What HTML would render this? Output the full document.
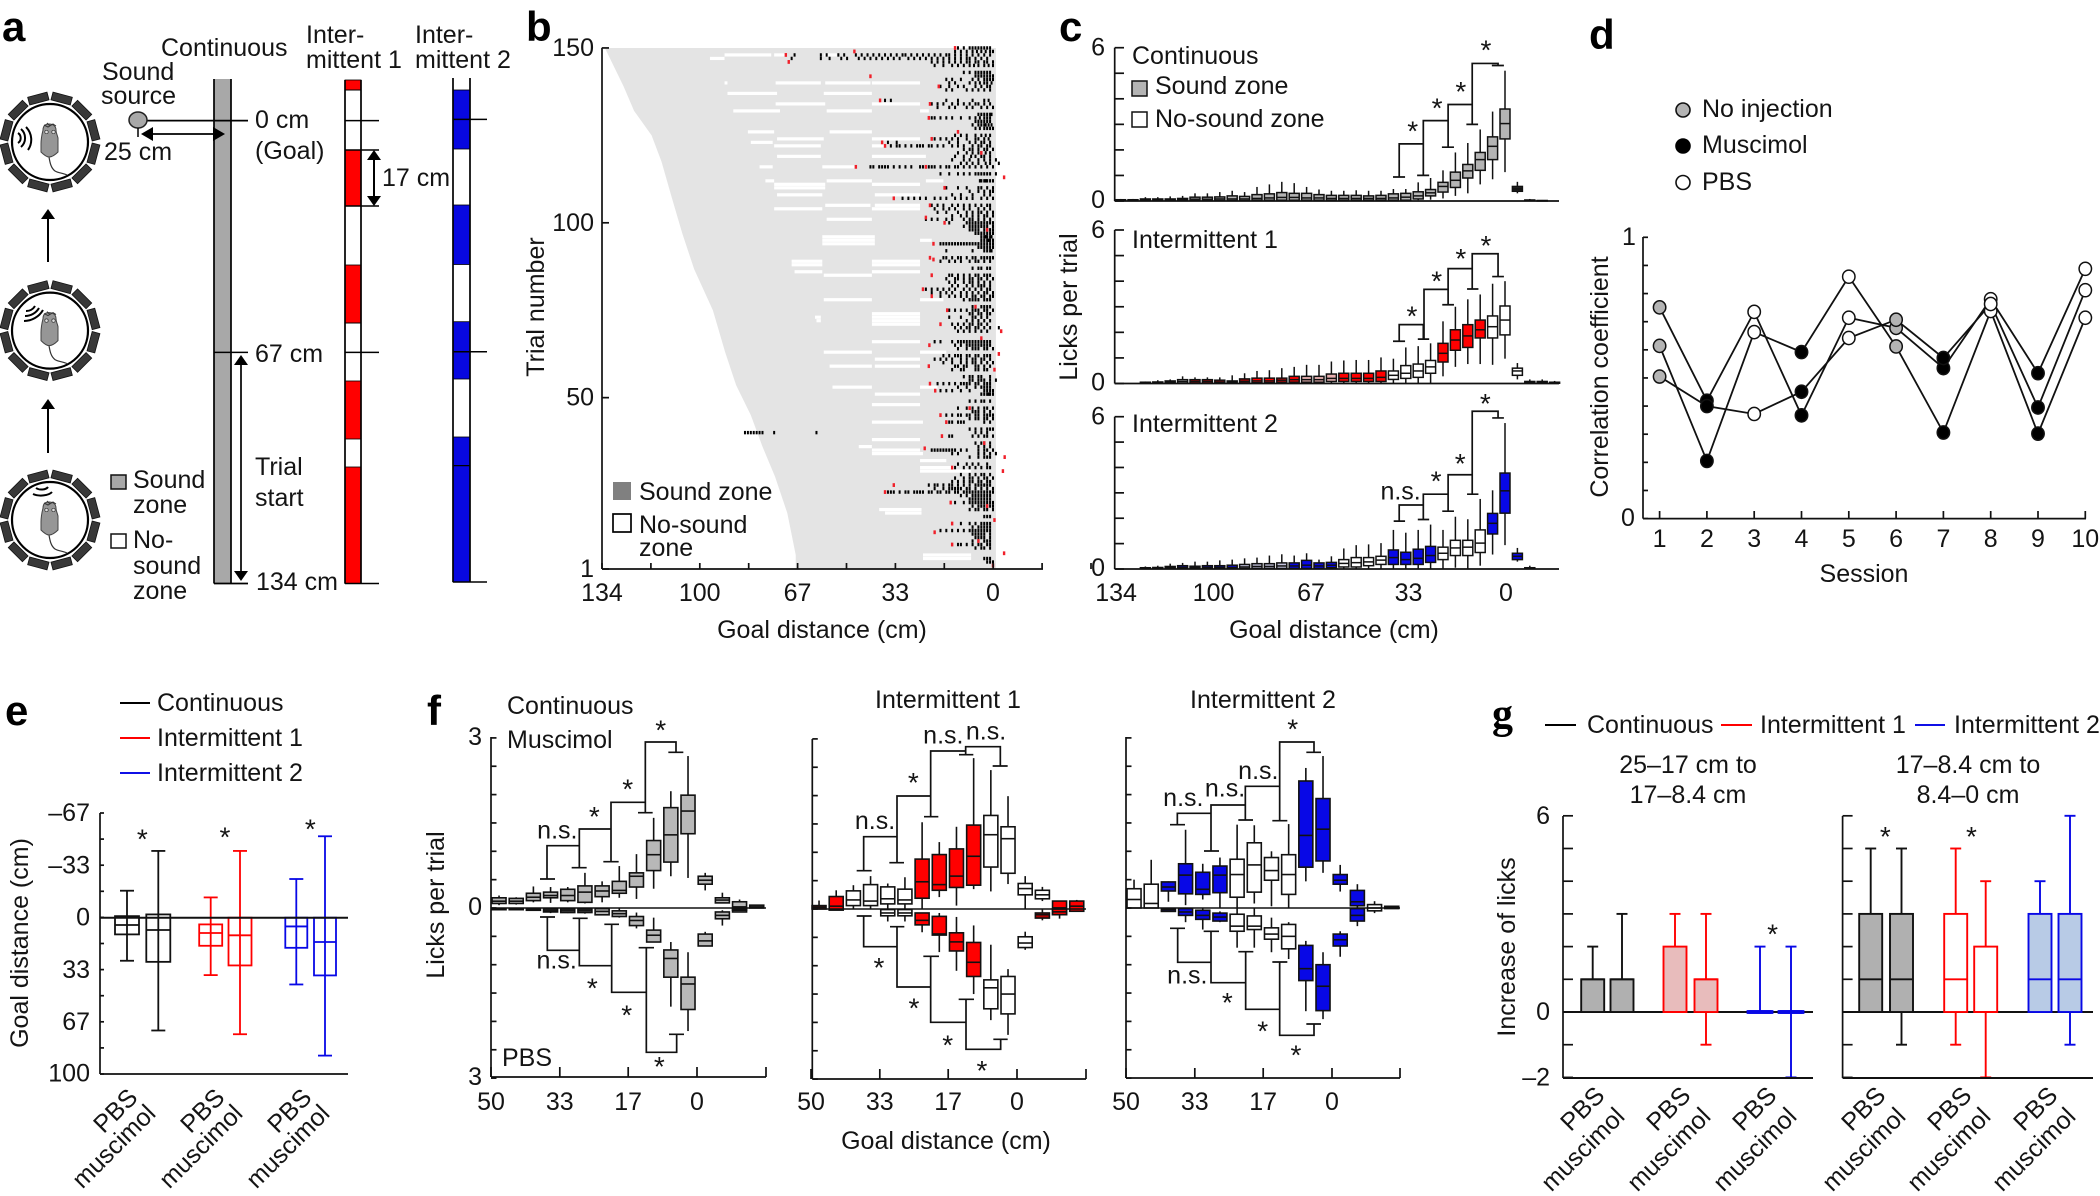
<!DOCTYPE html>
<html lang="en">
<head>
<meta charset="utf-8">
<title>Sound-guided licking behaviour figure</title>
<style>
html,body{margin:0;padding:0;background:#fff}
svg{display:block}
text{font-family:"Liberation Sans",sans-serif;font-size:25px;fill:#141414}
.letter{font-weight:bold;font-size:42px;fill:#000}
.serif{font-family:"Liberation Serif",serif}
.bracket{fill:none;stroke:#111;stroke-width:1.7;vector-effect:non-scaling-stroke}
</style>
</head>
<body>
<svg id="figure" xmlns="http://www.w3.org/2000/svg" width="2100" height="1196" viewBox="0 0 2100 1196">
<rect x="0" y="0" width="2100" height="1196" fill="#fff"/>
<g id="marks"></g>

<!-- bracket annotations, drawn in crop coordinates -->
<g transform="translate(1040,0) scale(0.3444,0.4146)">
<path class="bracket" d="M1025 427H1060M1043 427V347H1113M1095 423H1130M1113 423V291H1185M1167 355H1202M1185 355V252H1255M1238 300H1272M1255 300V153H1330V158M1312 158H1347"/>
<path class="bracket" d="M1025 823H1060M1043 823V783H1113V818M1097 818H1130M1115 818V698H1185M1168 735H1202M1185 735V648H1255M1240 697H1273M1255 697V612H1330V667M1313 667H1347"/>
<path class="bracket" d="M1027 1257H1060M1043 1257V1218H1113M1097 1253H1130M1113 1253V1192H1185M1168 1233H1202M1185 1233V1145H1255M1240 1192H1273M1255 1192V992H1330V1008M1313 1008H1347"/>
</g>
<g transform="translate(420,680) scale(0.33333)">
<path class="bracket" d="M360 597H405M381 597V497H478M455 563H500M478 563V447H573M550 545H596M573 545V367H676M654 398H698M676 398V186H768V217M745 217H790"/>
<path class="bracket" d="M360 711H405M382 711V811H478M458 715H503M478 715V857H575M553 733H597M575 733V937H679M656 803H702M679 803V1117H770V1063M747 1063H792"/>
</g>
<g transform="translate(800,680) scale(0.33333)">
<path class="bracket" d="M170 572H215M191 572V470H291M268 548H312M291 548V348H392M372 410H415M392 410V213H497M477 224H520M497 224V200H601V258M578 258H623"/>
<path class="bracket" d="M170 708H215M191 708V800H291M270 740H313M291 740V921H392M370 829H417M392 829V1027H498M476 958H522M498 958V1108H602V1078M580 1078H623"/>
</g>
<g transform="translate(1110,680) scale(0.33333)">
<path class="bracket" d="M180 434H225M202 434V400H303M282 513H327M303 513V375H406M385 420H429M406 420V319H509M487 422H532M509 422V186H612V217M589 217H633"/>
<path class="bracket" d="M180 745H225M203 745V847H303M281 754H327M303 754V908H407M385 815H430M407 815V988H509M487 846H532M509 846V1066H612V1032M589 1032H633"/>
</g>

<!-- panel letters -->
<text class="letter" x="2" y="41">a</text>
<text class="letter" x="526" y="41">b</text>
<text class="letter" x="1059" y="41">c</text>
<text class="letter" x="1589" y="49">d</text>
<text class="letter" x="5" y="725">e</text>
<text class="letter" x="427" y="725">f</text>
<text class="letter serif" x="1492" y="728">g</text>

<!-- panel a text -->
<text x="161" y="56">Continuous</text>
<text x="306" y="43">Inter-</text>
<text x="306" y="68">mittent 1</text>
<text x="415" y="43">Inter-</text>
<text x="415" y="68">mittent 2</text>
<text x="102" y="80">Sound</text>
<text x="101" y="104">source</text>
<text x="104" y="160">25 cm</text>
<text x="255" y="128">0 cm</text>
<text x="255" y="159">(Goal)</text>
<text x="382" y="186">17 cm</text>
<text x="255" y="362">67 cm</text>
<text x="255" y="475">Trial</text>
<text x="255" y="506">start</text>
<text x="256" y="590">134 cm</text>
<text x="133" y="488">Sound</text>
<text x="133" y="513">zone</text>
<text x="133" y="548">No-</text>
<text x="133" y="574">sound</text>
<text x="133" y="599">zone</text>

<!-- panel b text -->
<text transform="translate(544,307) rotate(-90)" text-anchor="middle">Trial number</text>
<text x="822" y="638" text-anchor="middle">Goal distance (cm)</text>
<rect x="613" y="482" width="18" height="18" fill="#808080"/>
<text x="639" y="500">Sound zone</text>
<rect x="613" y="514" width="18" height="18" fill="#fff" stroke="#000" stroke-width="1.7"/>
<text x="639" y="533">No-sound</text>
<text x="639" y="556">zone</text>

<!-- panel c text -->
<text transform="translate(1077,307) rotate(-90)" text-anchor="middle">Licks per trial</text>
<text x="1334" y="638" text-anchor="middle">Goal distance (cm)</text>
<text x="1132" y="64">Continuous</text>
<rect x="1132" y="81" width="15" height="15" fill="#b4b4b4" stroke="#111" stroke-width="1.5"/>
<text x="1155" y="94">Sound zone</text>
<rect x="1132" y="112" width="15" height="15" fill="#fff" stroke="#111" stroke-width="1.5"/>
<text x="1155" y="127">No-sound zone</text>
<text x="1132" y="248">Intermittent 1</text>
<text x="1132" y="432">Intermittent 2</text>

<!-- panel d text -->
<text transform="translate(1608,377) rotate(-90)" text-anchor="middle">Correlation coefficient</text>
<text x="1864" y="582" text-anchor="middle">Session</text>
<ellipse cx="1683" cy="110" rx="7" ry="7" fill="#b4b4b4" stroke="#111" stroke-width="1.6"/>
<text x="1702" y="117">No injection</text>
<ellipse cx="1683" cy="146" rx="7" ry="7" fill="#000" stroke="#000" stroke-width="1.6"/>
<text x="1702" y="153">Muscimol</text>
<ellipse cx="1683" cy="182.5" rx="7" ry="7" fill="#fff" stroke="#111" stroke-width="1.6"/>
<text x="1702" y="190">PBS</text>

<!-- panel e text -->
<line x1="120" x2="150" y1="703" y2="703" stroke="#000" stroke-width="2"/>
<text x="157" y="711">Continuous</text>
<line x1="120" x2="150" y1="738" y2="738" stroke="#f00" stroke-width="2"/>
<text x="157" y="746">Intermittent 1</text>
<line x1="120" x2="150" y1="773" y2="773" stroke="#1010e6" stroke-width="2"/>
<text x="157" y="781">Intermittent 2</text>
<text transform="translate(28,943) rotate(-90)" text-anchor="middle">Goal distance (cm)</text>
<text transform="translate(139,1099) rotate(-45)" text-anchor="end">PBS</text>
<text transform="translate(157,1115) rotate(-45)" text-anchor="end">muscimol</text>
<text transform="translate(226,1099) rotate(-45)" text-anchor="end">PBS</text>
<text transform="translate(244,1115) rotate(-45)" text-anchor="end">muscimol</text>
<text transform="translate(313,1099) rotate(-45)" text-anchor="end">PBS</text>
<text transform="translate(331,1115) rotate(-45)" text-anchor="end">muscimol</text>

<!-- panel f text -->
<text x="507" y="714">Continuous</text>
<text x="507" y="748">Muscimol</text>
<text x="502" y="1066">PBS</text>
<text transform="translate(444,905) rotate(-90)" text-anchor="middle">Licks per trial</text>
<text x="948" y="708" text-anchor="middle">Intermittent 1</text>
<text x="1263" y="708" text-anchor="middle">Intermittent 2</text>
<text x="946" y="1149" text-anchor="middle">Goal distance (cm)</text>

<!-- panel g text -->
<line x1="1545" x2="1576" y1="725" y2="725" stroke="#000" stroke-width="2"/>
<text x="1587" y="733">Continuous</text>
<line x1="1721" x2="1752" y1="725" y2="725" stroke="#f00" stroke-width="2"/>
<text x="1760" y="733">Intermittent 1</text>
<line x1="1915" x2="1945" y1="725" y2="725" stroke="#1010e6" stroke-width="2"/>
<text x="1954" y="733">Intermittent 2</text>
<text x="1688" y="773" text-anchor="middle">25–17 cm to</text>
<text x="1688" y="803" text-anchor="middle">17–8.4 cm</text>
<text x="1968" y="773" text-anchor="middle">17–8.4 cm to</text>
<text x="1968" y="803" text-anchor="middle">8.4–0 cm</text>
<text transform="translate(1515,947) rotate(-90)" text-anchor="middle">Increase of licks</text>
<text transform="translate(1606,1097) rotate(-45)" text-anchor="end">PBS</text>
<text transform="translate(1626,1118) rotate(-45)" text-anchor="end">muscimol</text>
<text transform="translate(1692,1097) rotate(-45)" text-anchor="end">PBS</text>
<text transform="translate(1712,1118) rotate(-45)" text-anchor="end">muscimol</text>
<text transform="translate(1778,1097) rotate(-45)" text-anchor="end">PBS</text>
<text transform="translate(1798,1118) rotate(-45)" text-anchor="end">muscimol</text>
<text transform="translate(1887,1097) rotate(-45)" text-anchor="end">PBS</text>
<text transform="translate(1907,1118) rotate(-45)" text-anchor="end">muscimol</text>
<text transform="translate(1973,1097) rotate(-45)" text-anchor="end">PBS</text>
<text transform="translate(1992,1118) rotate(-45)" text-anchor="end">muscimol</text>
<text transform="translate(2059,1097) rotate(-45)" text-anchor="end">PBS</text>
<text transform="translate(2077,1118) rotate(-45)" text-anchor="end">muscimol</text>
</svg>

<script>
/* ---------- panel b data (trial number, goal distance in cm) ---------- */
const rasterStartTrials = [150,139,132,125,117.5,107,97,86.7,75,63,53.5,45,36,27.4,17,5,1];
const rasterStartDistances = [133,126.6,123,117,113.6,110,106.5,102.4,96,91.8,88,83,79,74.7,70.5,67.6,67.6];
const rasterTickLabelsX = ["134","100","67","33","0"];
const rasterTickValuesX = [134,100.5,67,33.5,0];
const rasterTickLabelsY = [150,100,50,1];
const rasterGaps = [
[148,92,76],[147,97,92],[148,75,71],[148,58,53.5],[140,92,91],[140,74.5,59],[140,57.5,42],[140,41.5,25],
[137,91,74],[137,58,41.5],[134,74.5,57.5],[134,41.5,25],[132,89,73],[132,57,41.5],[132,25,22],[126,84,75],
[126,56,41.5],[124,74,58],[124,41.5,25],[123,83,75.5],[122,75,59],[122,41.5,37],[119,74,59],[119,41.5,23],
[116,80,75.5],[116,58.5,47.5],[112,78,75],[112,57,41.5],[112,23,17],[111,75,57.5],[110,75,57.5],[111,41.5,25],
[108,74,58.5],[108,40.5,25],[105,57.5,42],[105,40.5,25],[104,75,58.5],[104,41.5,25],[101,57,41.5],
[94,58.5,40.5],[95,58.5,40.5],[96,58.5,40.5],[95,25,21],[89,69,58.5],[89,41.5,25],[88,69,58.5],[88,41.5,25],
[86,68,58.5],[86,41.5,25],[85,58,41.5],[78,58,41.5],[78,25,17],[71,41.5,25],[72,41.5,25],[73,41.5,25],[74,41.5,25],
[73,61,59],[72,60.5,59],[66,41.5,25],[63,58,41.5],[63,25,16],[61,40.5,25],[59,56,41.5],[59,40.5,25],[53,55,41.5],
[53,25,19],[51,40.5,25],[48,41.5,25],[43,41.5,24],[38,41.5,25],[36,46,41.5],[35,41.5,25],[34,41.5,24],[32,25,16],
[30,25,13],[29,25,7.5],[18,39,24.5],[17,37,24.5],[5,24,7.5],[4,24,7.5]
];
const rasterLicks = [
[150,12,10,8,7,6,5,4,3,2,1],[149,13,11,9,7,5.5,4,2.5,1,0],
[148,68,59,57,53,51,47,45,43,41,39,37,35,33,31,30,28,26,24,22,20,18,16,15,13,11,9,7,5,3,1],
[147,69,59,56,52,50,46,44,42,40,38,36,34,32,29,27,25,23,21,19,17,15,13,11,9,8,6,4,2],
[146,21,19,17,15,13,11,9,8,6,5,3,2,0],[145,20,17,14,12,10,8,6.5,5,3,1.5,0],[143,10,8,6,5,4,3,2,1],
[142,6,5,4,3,2,1,0],[141,16,14,11,7,5,3,2,1,0],[140,15,13,8,6,4.5,3,2,0.5],[139,18,15,12,10,6,4,2,1],
[138,16,14,9,7,5,3,1],[135,37,35,16,12,7,3,1.5],[134,21,19,17,14,12,10,8,6,5,3,1],[133,19,15,13,9,7,4,2,0],
[131,5,4,3,2,1,0.5],[130,21,20,18,16,14,11,8,6,4.5,3,2,1],[129,6,5,4,3,2,1],[128,7,5,4,3,2.5,1.5,0.5],
[127,6,4.5,3,2,1,0],[125,13,11,9,6,4,2.5,1],[124,20,18,16,14,12,9,6,5,3,1.5],[123,36,33,15,12,8,6,4,3,1],
[122,35,33,32,30,28,26,25,24,22,21,19,17,14,12,10,7,5,4,2,1],[121,10,8,7,5,3,2,0],[120,12,9,7,5,4,2.5,1],
[119,13,10,7.5,6,4,3,1],[118,14,10,8,5,3,1,-1],[117,11,9,7,5,2.5,1,-2],
[116,42,41,39,38,37,36,34,32,30,28,25,24,23,22,21,20,18,16,15,13,12,10,8,6,4,2,0],
[114,18,15,12,10,8,6,5,4,3,2,1,-1],[112,4.5,4,3,2.5,2,1,0],[110,16,12,9,5,4,2,0],[109,8,5,3,1,0],
[108,14,11,7,3,1],[107,31,29,27,25,23,20,18,16,13,11,9,7,4,2,0],[105,21,19,17,14,12,10,8,6,4,2,1],
[104,20,17,15,13,10,8,5,3,1],[103,19,16,12,9,7,5,4,2,0],[102,14,11,9,7,5,3,2,0],[101,23,21,19,16,14,10,8,7,5,3,1],
[100,15,9,8,7,6,5,4,3,2,1,0],[99,10,8,7,6,5,4,3,2,0],[98,8,7,6,5,3,2,1,0],[97,6,5,4,3,2,1,0],
[96,4,3,2.5,2,1,0.5],[95,4,3,2,1.5,1,0],[94,18,17,16,15,14,13,12,11,10,9,8,7,6,5,4,3,2,1,0],
[93,5,4,3,2,1,0],[92,16,7,3,2,1,0.5],[90,17,16,14,12,11,9,7,6,4,3,2,1,0],[89,18,15,13,11,8,6,5,3,1],
[87,7,5,4,2,1],[85,15,14,12,10,8,6,5,3,2,1],[84,16,13,12,10,8,7,5,4,2,0],[83,15,13,10,8,7,5,3,1],
[82,14,12,9,7,5,4,3,1],[81,23,21,19,17,15,13,10,8,6,4,2,1],[80,21,18,16,14,11,9,7,5,3,2,0],
[79,18,15,13,11,9,7,6,4,3,1,0],[78,10,8,7,6,5,3,2,1],[76,7,6,4,3,2,1],[75,15,13,11,9,7,6,5,3,2,0],
[74,8,7,5,4,2,1],[73,15,11,7,6,4,2],[72,9,7,5,3,1],[71,14,12,10,8,7,5,4,2],[70,13,11,9,8,6,5,3,1,-2],
[69,12,10,8,6,4,2],[66,20,18,14,12,11,10,9,8,7,6,5,4,3,2,1],[65,13,11,9,8,7,6,5,4,3,2,1],[64,12,9,7,6,5,3,2,0],
[62,17,15,13,12,11,9,8,6,5,3,2,1],[61,20,18,16,14,11,9,7,6,4,3,1],[60,17,14,11,9,7,6,4,2,0],[59,13,12,10,9,6,5,3,1],
[58,14,11,10,6,5,3,2],[56,10,8,7,5,4,1],[55,8,7,5,4,3,1,-1],[54,19,17,15,13,11,10,9,8,6,5,3,2,1],
[53,12,9,6,4,3,2,1],[52,18,16,14,11,8,3,2,1,0],[51,4,3,2,1.5,1,0],[49,8,6,4,3,1],[47,12,9,7,5,3,2,0],
[46,7,6,5,3,1],[45,16,14,12,11,9,8,6,5,3,2,1,0],[44,8,6,5,3,2,0],[43,15,14,12,11,10,3,1],[41,8,6,4,2,1,0],
[40,85,84,83,82,81,80,79,75,60.5,6,4,2],[39,15,14,7,5,3,2,0],[37,6,4,3,1],[36,5,3,1],
[35,21,20,19,18,17,16,15,14,13,11,9,5,3,2,0],[34,14,12,5,3,1,-1],[33,8,5,3,2,1],[31,12,9,7,5,2],[30,13,10,8,6,4,2,1],
[28,11,8,6,4,3,1],[27,13,10,8,7,5,3,2,0],[26,14,12,10,8,7,5,4,2,1],[25,22,20,19,17,15,14,12,10,8,6,5,4,3,2,1],
[24,20,17,15,14,13,12,11,9,8,6,4,2,0],[23,36,35,34,32,30,29,27,26,25,24,22,21,19,18,16,15,13,12,10,9,8,7,6,5,4,3,2,1,0],
[22,11,9,7,6,5,4,3,2,1],[21,8,7,6,5,4,3,2,1],[20,13,10,8,7,6,5,4,3,2,1,0],[19,7,5,4,3,2,1,0],[18,8,6,5,3,2,0],
[16,3,2,1],[14,11,8,6,4,3,2,1],[13,7,5,4,3,2,1],[12,18,16,14,12,10,8,7,6,5,4,3,2,1],[11,7,6,5,4,3,1],[10,6,5,4,3,1],
[9,7,5,3,2,1],[8,12,11,9,7,5,4,2,1],[7,6,4,3,1],[4,3,2,1],[3,2,1,0]
];
const rasterFirstLicks = [
[150,13],[148,71],[146,70],[149,47.5],[141.9,42],[139,18.6],[135,38.7],[134,21.6],[130,22],[124,21],[123,38],[122,37],
[116,47],[116,23],[107,34],[110,16.6],[105,21.6],[101.5,23],[100,16.6],[94,20.4],[90,21.6],[89.5,20.4],[85,21],[81,24],
[79,21],[75,15.7],[71,18],[65,21.8],[59,22],[54,21.6],[52,19.8],[45,18],[43,16],[39,17.5],[35.5,23.4],[30,14],[25,34],
[23,37],[20,14.5],[11.5,20],[14,14],[8,14],[113,-3.8],[69,-2.8],[62.5,-2],[33,-4],[29,-3.4],[5.5,-3.8],[2,0],[15,-0.5],
[126,12],[120,4],[98,2],[76,6],[67,4],[58,-0.5],[47,8],[37,3],[19,2],[9,5]
];

/* ---------- panel c data: [whisker low, Q1, median, Q3, whisker high], licks per trial; index = bin from goal ---------- */
const cTickLabels = ["134","100","67","33","0"];
const cTickValues = [134,100.5,67,33.5,0];
const cContinuous = [[1.13,2.43,3.03,3.6,5.1],[.85,1.62,2.14,2.51,3.5],[.65,1.2,1.62,1.9,2.8],[.3,.9,1.18,1.43,2.27],[.2,.53,.81,1.13,1.9],[.1,.35,.57,.73,1.2],[.05,.2,.32,.45,.9],[.03,.08,.2,.36,.73],[0,.03,.15,.3,.47],[0,.03,.12,.28,.47],[0,.03,.1,.22,.4],[0,.03,.1,.2,.4],[0,.03,.1,.22,.42],[0,.03,.1,.22,.4],[0,.03,.1,.22,.4],[0,.03,.12,.25,.45],[0,.03,.12,.3,.55],[0,.03,.14,.3,.7],[0,.03,.14,.33,.75],[0,.03,.12,.28,.65],[0,.03,.1,.25,.55],[0,.02,.08,.18,.35],[0,.02,.08,.2,.4],[0,.02,.08,.16,.35],[0,.02,.07,.15,.3],[0,.02,.07,.15,.3],[0,.02,.05,.1,.2],[0,.02,.05,.08,.18],[0,.01,.04,.08,.15],[0,.01,.04,.08,.15],[0,.01,.02,.05,.08],[0,.01,.02,.05,.08]];
const cContinuousPast = [[.3,.38,.47,.57,.75],[0,.01,.02,.04,.08],[0,0,.01,.02,.04]];
const cInt1 = [[.97,1.9,2.48,3.03,4.0],[.73,1.78,2.22,2.64,3.9],[.76,1.78,2.1,2.48,3.48],[.76,1.41,1.86,2.3,3.29],[.65,1.3,1.7,2.1,3.0],[.28,.84,1.18,1.57,2.43],[0,.4,.65,.9,1.57],[0,.24,.49,.76,1.46],[0,.2,.4,.7,1.41],[0,.16,.32,.49,.97],[0,.08,.24,.49,1.02],[0,.08,.2,.4,.92],[0,.08,.2,.4,.92],[0,.08,.2,.4,.9],[0,.08,.2,.37,.86],[0,.05,.15,.28,.73],[0,.05,.15,.28,.73],[0,.05,.15,.28,.65],[0,.05,.13,.21,.6],[0,.03,.1,.21,.52],[0,.03,.1,.21,.49],[0,.02,.08,.18,.4],[0,.02,.05,.1,.32],[0,.02,.06,.13,.24],[0,.02,.08,.15,.24],[0,.02,.08,.15,.24],[0,.02,.08,.15,.28],[0,.01,.05,.1,.16],[0,.01,.03,.06,.13],[0,.01,.03,.05,.08]];
const cInt1Past = [[.16,.32,.49,.6,.8],[0,.02,.05,.08,.16],[0,.02,.05,.08,.16],[0,.01,.03,.05,.1]];
const cInt1Zones = "wwrrrrwwwwrrrrppprrr" + "rdprrrwwww";
const cInt2 = [[.94,2.2,3.08,3.78,5.75],[.57,1.38,1.8,2.19,3.1],[.13,.65,1.02,1.54,2.76],[0,.53,.86,1.13,1.96],[.05,.53,.83,1.13,2.06],[0,.37,.62,.86,1.54],[0,.26,.53,.89,1.75],[0,.18,.42,.78,1.54],[0,.18,.37,.66,1.43],[0,.18,.45,.75,1.54],[0,.18,.35,.5,1.02],[0,.13,.28,.45,.97],[0,.08,.25,.45,.94],[0,.08,.22,.37,.81],[0,.05,.15,.26,.5],[0,.02,.12,.24,.37],[0,.02,.15,.34,.62],[0,.02,.12,.24,.53],[0,.02,.12,.24,.58],[0,.02,.1,.21,.53],[0,.02,.1,.21,.45],[0,.02,.08,.18,.42],[0,.02,.06,.15,.37],[0,.02,.06,.13,.34],[0,.02,.06,.13,.29],[0,.02,.06,.11,.29],[0,.02,.06,.13,.24],[0,.02,.05,.1,.21],[0,.01,.03,.06,.13],[0,.01,.03,.05,.1]];
const cInt2Past = [[.29,.37,.5,.62,.83],[0,.01,.03,.05,.13]];
const cInt2Zones = "bbwwwwbbbbwwwwbbbbllllbbbbbbbb";

/* ---------- panel d data ---------- */
const dSessions = [1,2,3,4,5,6,7,8,9,10];
const dLineA = [.751,.419,.735,.367,.714,.678,.535,.780,.517,.888];
const dLineB = [.614,.205,.663,.592,.860,.612,.306,.738,.302,.714];
const dLineC = [.505,.400,.372,.451,.642,.707,.571,.763,.395,.812];
const dConditions = ["no","mus","pbs","mus","pbs","no","mus","pbs","mus","pbs"];

/* ---------- panel e data: goal distance, cm ---------- */
const eTickLabels = ["–67","–33","0","33","67","100"];
const eTickValues = [-67,-33.5,0,33.5,67,100];
const eBoxes = [[-17.3,-1,4.7,10.7,27.6],[-42.8,-2.1,7.9,28.3,72.3],[-13,4.3,9.8,18,36.8],[-42.8,0,11.3,30.6,74.7],[-24.8,0,5.6,19.3,42.8],[-52.2,0,15.6,37,88.4]];

/* ---------- panel f data: licks per trial; index: 0..11 before goal, past = after goal ---------- */
const fTickLabels = ["50","33","17","0"];
const fTickValues = [50,33.3,16.7,0];
const fContUp = [[.53,1.31,1.71,1.99,2.68],[.56,.81,1.29,1.77,2.06],[.34,.66,.94,1.19,1.59],[.16,.37,.56,.62,.95],[.18,.26,.31,.47,.74],[.1,.2,.3,.39,.47],[.08,.1,.28,.39,.62],[.1,.13,.22,.33,.37],[.09,.18,.22,.28,.37],[.1,.13,.19,.26,.38],[.06,.08,.12,.17,.19],[.05,.08,.12,.18,.22]];
const fContUpPast = [[.31,.42,.49,.56,.62],[.08,.09,.14,.18,.27],[-.07,-.07,.02,.11,.15],[0,0,.02,.05,.06]];
const fContDown = [[.78,1.22,1.34,1.79,2.17],[.6,.74,.89,1.22,1.74],[.17,.39,.48,.6,.6],[.08,.15,.22,.31,.36],[0,.05,.1,.15,.17],[0,.01,.06,.12,.12],[0,.02,.05,.08,.1],[0,.02,.05,.08,.09],[0,.02,.05,.07,.09],[0,.02,.03,.04,.04],[0,.01,.02,.03,.03],[0,.01,.02,.03,.03]];
const fContDownPast = [[.42,.46,.58,.67,.67],[.04,.07,.13,.19,.31],[0,.01,.02,.04,.05]];
const fInt1Up = [[.44,.63,1.24,1.45,1.99],[.31,.74,1.31,1.65,2.45],[.35,.42,.93,1.48,2.66],[.06,.38,.58,1.06,1.45],[.21,.33,.43,.96,1.18],[0,.19,.48,.88,1.53],[0,.09,.16,.35,.56],[0,.09,.18,.39,.45],[0,.06,.14,.43,.58],[0,.06,.16,.32,.42],[0,-.02,.05,.22,.33],[0,0,.03,.06,.15]];
const fInt1UpPast = [[0,.25,.36,.45,.58],[.14,.18,.25,.33,.39],[-.1,-.1,.02,.14,.14],[-.04,-.04,.05,.14,.16]];
const fInt1UpZones = "wwrrrrwwwwrd";
const fInt1UpPastZones = "wwrr";
const fInt1Down = [[1.06,1.19,1.5,1.85,2.22],[.63,1.25,1.39,1.76,1.96],[.29,.59,.94,1.19,1.5],[.14,.42,.58,.74,1.09],[.07,.13,.44,.46,.76],[.07,.07,.2,.28,.41],[0,.01,.07,.12,.22],[0,.01,.07,.12,.22]];
const fInt1DownPast = [[.4,.49,.6,.68,.72],[.01,.07,.1,.16,.2],[0,0,.05,.1,.17]];
const fInt1DownZones = "wwrrrrww";
const fInt1DownPastZones = "wdr";
const fInt2Up = [[.62,.83,1.39,1.93,2.68],[.47,.72,1.28,2.24,2.47],[0,.24,.59,.94,1.48],[.03,.49,.66,.89,1.0],[.08,.28,.76,1.15,1.46],[0,.19,.59,.86,1.47],[0,.27,.58,.74,.89],[.15,.24,.33,.63,.78],[.05,.25,.58,.78,1.38],[.11,.3,.37,.46,.47],[0,0,.08,.42,.85],[0,0,.15,.34,.5]];
const fInt2UpPast = [[.29,.42,.49,.59,.76],[0,.04,.11,.31,.42],[-.09,-.05,0,.06,.12],[-.01,-.01,.01,.03,.04]];
const fInt2UpZones = "bbwwwwbbbbww";
const fInt2UpPastZones = "bbww";
const fInt2Down = [[.78,1,1.38,1.81,1.96],[.58,.66,1.07,1.28,1.82],[.25,.29,.5,.72,.9],[.17,.35,.46,.55,.78],[0,.14,.32,.38,.7],[0,.11,.32,.41,.7],[.06,.09,.16,.23,.25],[0,.04,.13,.2,.38],[0,.01,.07,.13,.25],[0,.01,.03,.06,.07]];
const fInt2DownPast = [[.41,.46,.56,.67,.86],[0,.01,.13,.23,.32]];
const fInt2DownZones = "bbwwwwbbbb";
const fInt2DownPastZones = "bb";

/* ---------- panel g data: increase of licks ---------- */
const gTickLabels = ["6","0","–2"];
const gTickValues = [6,0,-2];
const gLeft = [[0,0,1,1,2],[0,0,1,1,3],[0,0,0,2,3],[-1,0,1,1,3],[0,0,0,0,2],[-2,0,0,0,2]];
const gRight = [[0,0,1,3,5],[-1,0,1,3,5],[-1,0,1,3,5],[-2,0,0,2,4],[0,0,1,3,4],[-1,0,1,3,6]];

/* ---------- scaffolding ---------- */
const NS = "http://www.w3.org/2000/svg";
const marks = document.getElementById("marks");
const BLACK="#111", RED="#ff0000", BLUE="#0808e6";
function node(tag, attrs, name, parent){
  const el = document.createElementNS(NS, tag);
  for (const k in attrs) el.setAttribute(k, attrs[k]);
  
  
  (parent || marks).appendChild(el);
  return el;
}
function seg(x1,y1,x2,y2,name,stroke,sw,parent){
  return node("line",{x1,y1,x2,y2,stroke:stroke||BLACK,"stroke-width":sw||1.7},name,parent);
}
function label(x,y,str,anchor,name,parent){
  const t = node("text",{x,y,"text-anchor":anchor||"middle"},name,parent);
  t.textContent = str;
  return t;
}
function box(x,w,y,s,fill,stroke,sw,capW,name){
  const g = node("g",{},name);
  seg(x,y(s[0]),x,y(s[4]),"whisker",stroke,sw,g);
  if (capW){
    seg(x-capW/2,y(s[0]),x+capW/2,y(s[0]),"whisker-cap",stroke,sw,g);
    seg(x-capW/2,y(s[4]),x+capW/2,y(s[4]),"whisker-cap",stroke,sw,g);
  }
  const top = Math.min(y(s[1]),y(s[3])), bot = Math.max(y(s[1]),y(s[3]));
  const boxStroke = (capW && bot-top<0.5) ? 3.8 : sw;
  node("rect",{x:x-w/2,y:top,width:w,height:Math.max(bot-top,0.01),fill:fill,stroke:stroke,"stroke-width":boxStroke},"box",g);
  seg(x-w/2,y(s[2]),x+w/2,y(s[2]),"median",stroke,boxStroke,g);
}
function annotate(ox,oy,sx,sy,pts,str,size,name){
  pts.forEach(p=>{
    const t = node("text",{x:ox+p[0]*sx,y:oy+p[1]*sy+(str==="*"?16:0),"text-anchor":"middle","style":"font-size:"+size+"px"},name);
    t.textContent = str;
  });
}

/* ---------- panel a schematic ---------- */
function arrowHead(x,y,dir,name){
  const l=7,h=10;
  const d = dir==="u" ? `M${x} ${y}l${-l} ${h}h${2*l}z` : dir==="d" ? `M${x} ${y}l${-l} ${-h}h${2*l}z` :
            dir==="l" ? `M${x} ${y}l${h+2} ${-l}v${2*l}z` : `M${x} ${y}l${-h-2} ${-l}v${2*l}z`;
  node("path",{d,fill:"#000"},name);
}
function arena(cy,arcs,name){
  const cx=50, g=node("g",{},name);
  node("circle",{cx,cy,r:38,fill:"#fff",stroke:"#000","stroke-width":2.2},"arena-wall",g);
  for(let i=0;i<12;i++){
    const a=15+i*30;
    const rad=a*Math.PI/180;
    node("rect",{x:-10,y:-4,width:20,height:8,fill:"#383838",stroke:"#111","stroke-width":0.8,
      transform:`translate(${cx+45*Math.sin(rad)},${cy-45*Math.cos(rad)}) rotate(${a})`},"speaker",g);
  }
  const my=cy;
  node("path",{d:`M49 ${my+15}c1 6 2 11 6 14c3 2 8 2 12 4`,fill:"none",stroke:"#333","stroke-width":1.2},"mouse-tail",g);
  node("path",{d:`M49 ${my-18}C45 ${my-18} 43 ${my-16} 43 ${my-12}C42 ${my-8} 41 ${my-4} 41 ${my+2}L41 ${my+10}C44 ${my+13} 47 ${my+15} 49 ${my+15}C52 ${my+15} 55 ${my+13} 58 ${my+10}L58 ${my-4}C57 ${my-8} 56 ${my-9} 56 ${my-12}C56 ${my-16} 53 ${my-18} 49 ${my-18}Z`,
    fill:"#969696",stroke:"#444","stroke-width":1},"mouse-body",g);
  node("circle",{cx:46.5,cy:my-10,r:1.7,fill:"#ddd",stroke:"#333","stroke-width":0.7},"mouse-eye",g);
  node("circle",{cx:53.5,cy:my-10,r:1.7,fill:"#ddd",stroke:"#333","stroke-width":0.7},"mouse-eye",g);
  node("path",{d:`M44 ${my-17}l4 2l5 -3l3 2M47 ${my-19}l3 3`,fill:"none",stroke:"#333","stroke-width":1},"mouse-ears",g);
  arcs.forEach(d=>node("path",{d,fill:"none",stroke:"#000","stroke-width":2},"sound-wave",g));
}
arena(142,["M18 133a6 6 0 0 1 0 10","M21 129a12 12 0 0 1 0 18","M26 127a18 18 0 0 1 2 23"],"arena-near-source");
arena(330.6,["M26 311a10 10 0 0 0 9 -5","M25 316a16 16 0 0 0 14 -8","M24 321a22 22 0 0 0 19 -11"],"arena-mid-source");
arena(520,["M36 488a7 4 0 0 0 12 -1","M33 494a12 6 0 0 0 19 -2"],"arena-far-source");
seg(48,262,48,218,"progress-arrow-shaft","#000",2);arrowHead(48,209,"u","progress-arrow-head");
seg(48,453,48,408,"progress-arrow-shaft","#000",2);arrowHead(48,399,"u","progress-arrow-head");
node("rect",{x:214,y:79,width:17,height:504.5,fill:"#a8a8a8"},"continuous-track");
seg(214,79,214,583.5,"continuous-track-edge","#000",1.7);
seg(231,79,231,583.5,"continuous-track-edge","#000",1.7);
seg(147,120.6,248,120.6,"goal-line","#000",1.7);
seg(214,352.4,248,352.4,"line-67-cm","#000",1.5);
seg(214,583.5,248,583.5,"line-134-cm","#000",1.7);
node("ellipse",{cx:138,cy:120,rx:9,ry:8,fill:"#a8a8a8",stroke:"#222","stroke-width":1.5},"sound-source");
seg(138,128,138,137,"sound-source-stem","#000",1.5);
seg(148,134,218,134,"arrow-25-cm","#000",1.7);arrowHead(141,134,"l","arrow-25-cm-head");arrowHead(225,134,"r","arrow-25-cm-head");
seg(241,365,241,571,"trial-start-arrow","#000",1.7);arrowHead(241,355,"u","trial-start-arrow-head");arrowHead(241,581,"d","trial-start-arrow-head");
[[80,90],[150,206],[265,323],[381,439],[467,583.5]].forEach(s=>{
  node("rect",{x:345,y:s[0],width:16,height:s[1]-s[0],fill:"#ff0000",stroke:"#000","stroke-width":0.8},"intermittent-1-sound-zone");
});
seg(345,80,345,583.5,"intermittent-1-edge","#000",1.7);
seg(361,80,361,583.5,"intermittent-1-edge","#000",1.7);
[120.6,150,206,352.4,583.5].forEach(y=>{seg(345,y,379,y,"intermittent-1-marker","#000",1.5);});
seg(345,323,361,323,"zone-edge","#000",1);seg(345,90,361,90,"zone-edge","#000",1);
seg(374,160,374,196,"arrow-17-cm","#000",2);arrowHead(374,150,"u","arrow-17-cm-head");arrowHead(374,206,"d","arrow-17-cm-head");
[[90,149],[205,264.5],[321.7,379],[437,582]].forEach(s=>{
  node("rect",{x:453,y:s[0],width:17,height:s[1]-s[0],fill:"#0808e0",stroke:"#000","stroke-width":0.8},"intermittent-2-sound-zone");
});
seg(453,78,453,582,"intermittent-2-edge","#000",1.7);
seg(470,78,470,582,"intermittent-2-edge","#000",1.7);
[119.4,351.7,582].forEach(y=>{seg(453,y,487,y,"intermittent-2-marker","#000",1.5);});
seg(453,465.6,470,465.6,"zone-edge","#000",1.2);
node("rect",{x:111,y:475,width:15,height:14,fill:"#a8a8a8",stroke:"#111","stroke-width":1.5},"legend-sound-zone-swatch");
node("rect",{x:111,y:534,width:15,height:14,fill:"#fff",stroke:"#111","stroke-width":1.5},"legend-no-sound-zone-swatch");

/* ---------- panel b ---------- */
const xB = d => 993 - d*2.918;
const yB = t => 569 - (t-1)*3.497;
{
  const pts = rasterStartTrials.map((t,i)=>xB(rasterStartDistances[i])+","+yB(t));
  pts.push(xB(-1)+","+yB(1));
  pts.push(xB(-1)+","+yB(150));
  const area = node("polygon",{points:pts.join(" "),fill:"#e4e4e4"},"sound-zone-area");
  rasterGaps.forEach(g=>{
    const r = node("rect",{x:xB(g[1]),y:yB(g[0])-1.6,width:xB(g[2])-xB(g[1]),height:3.2,fill:"#fff"},"no-sound-gap");
  });
  rasterLicks.forEach(row=>{
    row.slice(1).forEach(d=>{
      node("rect",{x:xB(d)-1,y:yB(row[0])-1.7,width:2,height:3.4,fill:"#000"},"lick-tick");
    });
  });
  rasterFirstLicks.forEach(p=>{
    node("rect",{x:xB(p[1])-1.2,y:yB(p[0])-1.9,width:2.4,height:3.8,fill:"#f0202a"},"first-lick-tick");
  });
  seg(602,47.7,602,569,"raster-y-axis");
  seg(602,569,1043,569,"raster-x-axis");
  for(let i=0;i<=10;i++){
    const x=602+i*48.9;
    seg(x,569,x,563,"raster-x-tick");
  }
  rasterTickLabelsY.forEach(t=>{
    seg(602,yB(t),609,yB(t),"raster-y-tick");
    label(594,yB(t)+8,String(t),"end","raster-y-tick-label");
  });
  rasterTickValuesX.forEach((d,i)=>{
    label(xB(d),601,rasterTickLabelsX[i],"middle","raster-x-tick-label");
  });
}

/* ---------- panel c ---------- */
const xC = i => 1505 - i*12.4;
const zoneFill = {w:"#fff",r:"#ff0000",p:"#e8b0b0",d:"#b00000",b:"#0808e6",l:"#c4c4de",g:"#b4b4b4"};
function cPanel(zero,top,data,past,zones,pastFill,name){
  const s=(zero-top)/6, y=v=>zero-v*s;
  data.forEach((d,i)=>{
    box(xC(i),10,y,d,zoneFill[zones?zones[i]||"w":"g"],BLACK,1.5,0,name+"-box");
  });
  past.forEach((d,i)=>{
    box(xC(-1-i),10,y,d,i===0?pastFill:"#333",BLACK,1.5,0,name+"-past-box");
  });
  seg(1114.7,top,1114.7,zero,name+"-y-axis");
  seg(1114.7,zero,1559,zero,name+"-x-axis");
  for(let v=0;v<=6;v++){ seg(1114.7,y(v),1124,y(v),name+"-y-tick"); }
  label(1105,y(6)+8,"6","end",name+"-y-label");
  label(1105,y(0)+7,"0","end",name+"-y-label");
}
cPanel(201,47.7,cContinuous,cContinuousPast,null,"#222","continuous-licks");
cPanel(383.5,230,cInt1,cInt1Past,cInt1Zones,"#fff","intermittent-1-licks");
cPanel(569,416.7,cInt2,cInt2Past,cInt2Zones,"#0808e6","intermittent-2-licks");
{
  const xd = d => 1506 - d*2.91;
  cTickValues.forEach((d,i)=>{
    label(xd(d),601,cTickLabels[i],"middle","licks-x-tick-label");
  });
}
annotate(1040,0,.3444,.4146,[[1082,300],[1153,245],[1222,205],[1295,105],[1080,747],[1152,662],[1222,608],[1295,577],[1150,1145],[1220,1102],[1293,958]],"*",28,"significance-star");
annotate(1040,0,.3444,.4146,[[1047,1205]],"n.s.",25,"not-significant-label");

/* ---------- panel d ---------- */
const xD = s => 1659.6 + (s-1)*47.3;
const yD = v => 518.6 - v*281.3;
{
  seg(1643,237,1643,518.6,"correlation-y-axis");
  seg(1643,518.6,2086,518.6,"correlation-x-axis");
  for(let i=0;i<=10;i++){ seg(1643,yD(i/10),1648,yD(i/10),"correlation-y-tick"); }
  label(1629,245,"1","middle","correlation-y-label");
  label(1628,526,"0","middle","correlation-y-label");
  dSessions.forEach(s=>{
    seg(xD(s),518.6,xD(s),511,"correlation-x-tick");
    label(xD(s),547,String(s),"middle","correlation-x-label");
  });
  [dLineA,dLineB,dLineC].forEach(vals=>{
    node("polyline",{points:vals.map((v,i)=>xD(dSessions[i])+","+yD(v)).join(" "),fill:"none",stroke:"#111","stroke-width":1.8},"correlation-line");
  });
  const fills={no:"#b4b4b4",mus:"#000",pbs:"#fff"};
  [dLineA,dLineB,dLineC].forEach(vals=>{
    vals.forEach((v,i)=>{
      node("ellipse",{cx:xD(dSessions[i]),cy:yD(v),rx:6.2,ry:6.6,fill:fills[dConditions[i]],stroke:"#111","stroke-width":1.5},"correlation-point");
    });
  });
}

/* ---------- panel e ---------- */
const yE = v => 917.7 + v*1.56;
{
  const xs=[127,158.3,210.7,240,296.3,325], cols=[BLACK,BLACK,RED,RED,BLUE,BLUE], ws=[24,24,23,23,22,22];
  eBoxes.forEach((b,i)=>{
    box(xs[i],ws[i],yE,b,"none",cols[i],1.8,14,"goal-distance-box");
  });
  seg(100,813,100,1074,"goal-distance-y-axis");
  seg(100,1074,348,1074,"goal-distance-x-axis");
  seg(100,917.7,348,917.7,"goal-distance-zero-line",BLACK,2);
  for(let i=0;i<=10;i++){ const y=813+i*26.1; seg(100,y,104,y,"goal-distance-y-tick"); }
  eTickValues.forEach((v,i)=>{
    label(90,yE(v)+8,eTickLabels[i],"end","goal-distance-y-label");
  });
}
annotate(0,680,1/3,1/3,[[427,457],[675,452],[931,428]],"*",28,"significance-star");

/* ---------- panel f ---------- */
function fPanel(ax,top,bot,zero,right,x0,cfg,name){
  const s=56.7, xF=d=>x0-d*4.12;
  const up=v=>zero-v*s, dn=v=>zero+v*s, w=14;
  const binD=k=>2.18+4.17*k;
  const pick=(z,i)=>z?zoneFill[z[i]]:"#b8b8b8";
  cfg.up.forEach((b,i)=>{ box(xF(binD(i)),w,up,b,pick(cfg.upZ,i),BLACK,1.6,0,name+"-muscimol-box"); });
  cfg.upPast.forEach((b,i)=>{ box(xF(binD(-1-i)),w,up,b,pick(cfg.upPastZ,i),BLACK,1.6,0,name+"-muscimol-past-box"); });
  cfg.down.forEach((b,i)=>{ box(xF(binD(i)),w,dn,b,pick(cfg.downZ,i),BLACK,1.6,0,name+"-pbs-box"); });
  cfg.downPast.forEach((b,i)=>{ box(xF(binD(-1-i)),w,dn,b,pick(cfg.downPastZ,i),BLACK,1.6,0,name+"-pbs-past-box"); });
  seg(ax,top,ax,bot,name+"-y-axis");
  seg(ax,bot,right,bot,name+"-x-axis");
  seg(ax,zero,right,zero,name+"-zero-line",BLACK,1.5);
  for(let i=-6;i<=6;i++){ seg(ax,zero+i*28.35,ax+5.5,zero+i*28.35,name+"-y-tick"); }
  fTickValues.forEach((d,i)=>{
    seg(xF(d),bot,xF(d),bot-10,name+"-x-tick");
    label(xF(d),1110,fTickLabels[i],"middle",name+"-x-label");
  });
  seg(right,bot,right,bot-10,name+"-x-tick");
}
fPanel(491,737,1077,908,766,697,{up:fContUp,upPast:fContUpPast,down:fContDown,downPast:fContDownPast},"continuous-injection");
fPanel(812.3,739,1079,909,1086,1017,{up:fInt1Up,upPast:fInt1UpPast,down:fInt1Down,downPast:fInt1DownPast,upZ:fInt1UpZones,upPastZ:fInt1UpPastZones,downZ:fInt1DownZones,downPastZ:fInt1DownPastZones},"intermittent-1-injection");
fPanel(1126,737,1078,908,1400,1332,{up:fInt2Up,upPast:fInt2UpPast,down:fInt2Down,downPast:fInt2DownPast,upZ:fInt2UpZones,upPastZ:fInt2UpPastZones,downZ:fInt2DownZones,downPastZ:fInt2DownPastZones},"intermittent-2-injection");
label(482,745,"3","end","injection-y-label");
label(482,915,"0","end","injection-y-label");
label(482,1085,"3","end","injection-y-label");
annotate(420,680,1/3,1/3,[[523,390],[623,307],[722,130],[517,905],[620,985],[718,1140]],"*",28,"significance-star");
annotate(420,680,1/3,1/3,[[412,475],[410,865]],"n.s.",25,"not-significant-label");
annotate(800,680,1/3,1/3,[[340,288],[237,843],[342,965],[443,1075],[546,1152]],"*",28,"significance-star");
annotate(800,680,1/3,1/3,[[225,447],[430,190],[558,178]],"n.s.",25,"not-significant-label");
annotate(1110,680,1/3,1/3,[[548,128],[352,948],[458,1033],[558,1105]],"*",28,"significance-star");
annotate(1110,680,1/3,1/3,[[220,378],[345,350],[445,297],[232,910]],"n.s.",25,"not-significant-label");

/* ---------- panel g ---------- */
const yG = v => 1012 - v*32.7;
function gPanel(ax,right,xs,data,fills,name){
  const cols=[BLACK,BLACK,RED,RED,BLUE,BLUE];
  seg(ax,1012,right,1012,name+"-zero-line",BLACK,2);
  data.forEach((b,i)=>{
    box(xs[i],23,yG,b,fills[i],cols[i],1.9,11,name+"-box");
  });
  seg(ax,816,ax,1078,name+"-y-axis");
  seg(ax,1078,right,1078,name+"-x-axis",BLACK,2);
  for(let v=-2;v<=6;v++){ seg(ax,yG(v),ax+10,yG(v),name+"-y-tick"); }
}
const GR="#b0b0b0",PK="#e8bcbc",LB="#b8cbe6";
gPanel(1563,1813,[1592.7,1622,1675,1706,1760,1791],gLeft,[GR,GR,PK,PK,"none","none"],"lick-increase-left");
gPanel(1842.6,2093,[1870.7,1901.5,1955.7,1985.7,2040,2070],gRight,[GR,GR,"#fff","#fff",LB,LB],"lick-increase-right");
gTickValues.forEach((v,i)=>{
  label(1550,yG(v)+8,gTickLabels[i],"end","lick-increase-y-label");
});
annotate(1480,680,.3954,1/3,[[740,742],[1025,450],[1243,450]],"*",28,"significance-star");
</script>
</body>
</html>
